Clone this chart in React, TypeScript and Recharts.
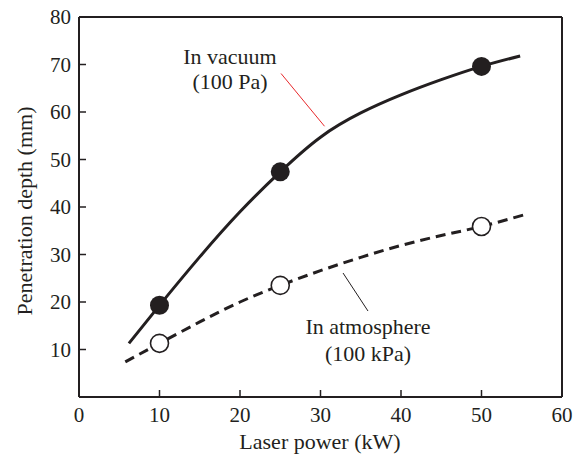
import { ComposedChart, Line, Scatter, XAxis, YAxis, ReferenceLine } from "recharts";

const xTicks = [0, 10, 20, 30, 40, 50, 60];
const yTicks = [10, 20, 30, 40, 50, 60, 70, 80];

// measured points
const powerKW = [10, 25, 50];
const vacuumDepth = [19.3, 47.4, 69.6];
const atmosphereDepth = [11.3, 23.5, 35.9];

// fitted curves
const vacuumCurveX = [6.2, 10, 15, 20, 25, 30, 35, 40, 45, 50, 54.8];
const vacuumCurveY = [11.3, 19.3, 29.5, 39.0, 47.4, 54.7, 59.8, 63.6, 66.8, 69.6, 71.8];
const atmosCurveX = [5.75, 10, 15, 20, 25, 30, 35, 40, 45, 50, 55.2];
const atmosCurveY = [7.4, 11.3, 15.8, 20.0, 23.5, 26.6, 29.4, 31.9, 34.0, 35.9, 38.3];

const FONT = "'Liberation Serif', 'Times New Roman', serif";
const INK = "#231f20";

const vacuumCurve = vacuumCurveX.map((x, i) => ({ x, y: vacuumCurveY[i] }));
const atmosCurve = atmosCurveX.map((x, i) => ({ x, y: atmosCurveY[i] }));
const vacuumPts = powerKW.map((x, i) => ({ x, y: vacuumDepth[i] }));
const atmosPts = powerKW.map((x, i) => ({ x, y: atmosphereDepth[i] }));

function FilledDot(props: any) {
  return <circle cx={props.cx} cy={props.cy} r={9.5} fill={INK} />;
}

function OpenDot(props: any) {
  return <circle cx={props.cx} cy={props.cy} r={9} fill="#fff" stroke={INK} strokeWidth={1.6} />;
}

export default function App() {
  const textStyle = { fontFamily: FONT, fontSize: 22, fill: INK };
  const tickStyle = { fontFamily: FONT, fontSize: 21, fill: INK };
  return (
    <div style={{ position: "absolute", left: 0, top: 0, background: "#fff" }}>
      <ComposedChart
        width={580}
        height={456}
        margin={{ top: 17, right: 18, bottom: 19, left: 0 }}
      >
        <XAxis
          type="number"
          dataKey="x"
          domain={[0, 60]}
          ticks={xTicks}
          height={40}
          axisLine={{ stroke: INK, strokeWidth: 2 }}
          tickLine={{ stroke: INK, strokeWidth: 1.5 }}
          tickSize={-7}
          tickMargin={17}
          tick={tickStyle}
          allowDataOverflow
        />
        <YAxis
          type="number"
          dataKey="y"
          domain={[0, 80]}
          ticks={yTicks}
          width={79}
          axisLine={{ stroke: INK, strokeWidth: 2 }}
          tickLine={{ stroke: INK, strokeWidth: 1.5 }}
          tickSize={-7}
          tickMargin={15}
          tick={tickStyle}
          allowDataOverflow
        />
        <ReferenceLine y={80} stroke={INK} strokeWidth={2} />
        <ReferenceLine x={60} stroke={INK} strokeWidth={2} />
        <ReferenceLine
          segment={[{ x: 25.1, y: 68.1 }, { x: 30.5, y: 57.0 }]}
          stroke="#e8282b"
          strokeWidth={1}
        />
        <ReferenceLine
          segment={[{ x: 32.8, y: 26.1 }, { x: 35.9, y: 18.1 }]}
          stroke={INK}
          strokeWidth={1}
        />
        <Line
          data={vacuumCurve}
          dataKey="y"
          type="natural"
          stroke={INK}
          strokeWidth={3}
          dot={false}
          isAnimationActive={false}
        />
        <Line
          data={atmosCurve}
          dataKey="y"
          type="natural"
          stroke={INK}
          strokeWidth={3}
          strokeDasharray="10 6"
          dot={false}
          isAnimationActive={false}
        />
        <Scatter data={vacuumPts} dataKey="y" shape={<FilledDot />} isAnimationActive={false} />
        <Scatter data={atmosPts} dataKey="y" shape={<OpenDot />} isAnimationActive={false} />

        <text x={230} y={64} textAnchor="middle" style={textStyle}>In vacuum</text>
        <text x={230} y={89} textAnchor="middle" style={textStyle}>(100 Pa)</text>
        <text x={368} y={334} textAnchor="middle" style={textStyle}>In atmosphere</text>
        <text x={368} y={361} textAnchor="middle" style={textStyle}>(100 kPa)</text>
        <text x={320} y={449} textAnchor="middle" style={textStyle}>Laser power (kW)</text>
        <text
          x={31.5}
          y={211}
          textAnchor="middle"
          transform="rotate(-90, 31.5, 211)"
          style={textStyle}
        >
          Penetration depth (mm)
        </text>
      </ComposedChart>
    </div>
  );
}
